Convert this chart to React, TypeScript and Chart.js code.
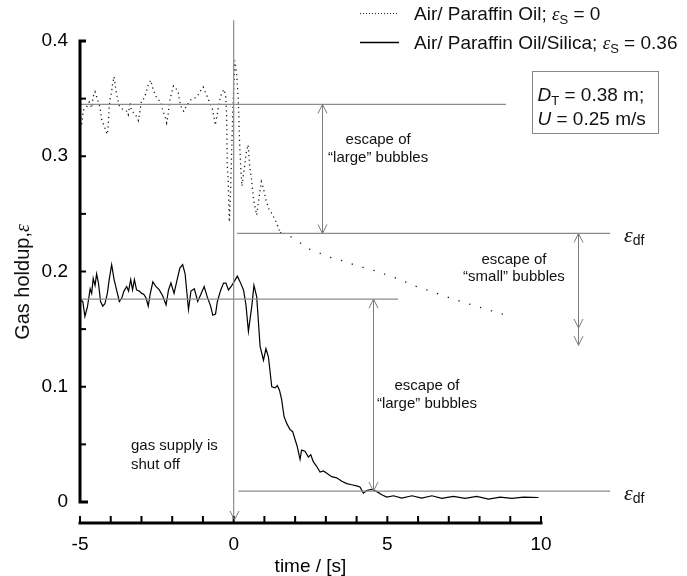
import React, { useEffect, useRef } from "react";
import { Chart, registerables } from "chart.js";

Chart.register(...registerables);

const SANS = '"Liberation Sans", Arial, Helvetica, sans-serif';
const SERIF = '"Liberation Serif", "Times New Roman", serif';

// ---- Data: Air / Paraffin oil (dotted) ----
const dottedTime = [
  -5.0, -4.95, -4.89, -4.8, -4.7, -4.62, -4.57, -4.51, -4.44, -4.37, -4.33, -4.29, -4.22, -4.15, -4.11,
  -4.08, -4.05, -4.02, -3.97, -3.94, -3.89, -3.83, -3.78, -3.72, -3.59, -3.48, -3.43, -3.37, -3.32, -3.21,
  -3.1, -2.99, -2.92, -2.85, -2.78, -2.7, -2.61, -2.53, -2.45, -2.37, -2.31, -2.23, -2.18, -2.13, -2.07,
  -2.02, -1.96, -1.88, -1.8, -1.75, -1.67, -1.62, -1.53, -1.4, -1.29, -1.18, -1.1, -0.99, -0.88, -0.77,
  -0.68, -0.64, -0.6, -0.53, -0.47, -0.39, -0.31, -0.26, -0.23, -0.22, -0.21, -0.18, -0.14, -0.1, -0.06,
  -0.02, 0.04, 0.1, 0.15, 0.19, 0.23, 0.27, 0.35, 0.42, 0.47, 0.52, 0.58, 0.65, 0.75, 0.83, 0.9, 0.97,
  1.05, 1.15, 1.25, 1.38, 1.51, 1.72, 1.94, 2.16, 2.38, 2.65, 3.03, 3.46, 3.9, 4.55, 4.98, 5.41, 5.83,
  6.4, 6.94, 7.5, 8.0, 8.5, 9.0,
];
const dottedHoldup = [
  0.33, 0.327, 0.34, 0.342, 0.347, 0.342, 0.352, 0.356, 0.35, 0.344, 0.339, 0.331, 0.327, 0.321, 0.319,
  0.327, 0.343, 0.35, 0.356, 0.363, 0.369, 0.357, 0.35, 0.344, 0.34, 0.339, 0.336, 0.347, 0.339, 0.337,
  0.331, 0.349, 0.35, 0.355, 0.362, 0.366, 0.357, 0.352, 0.349, 0.347, 0.34, 0.334, 0.329, 0.337, 0.349,
  0.355, 0.361, 0.359, 0.355, 0.347, 0.34, 0.339, 0.344, 0.349, 0.35, 0.352, 0.356, 0.36, 0.353, 0.346,
  0.34, 0.334, 0.327, 0.337, 0.347, 0.355, 0.358, 0.352, 0.337, 0.317, 0.294, 0.28, 0.243, 0.27, 0.31,
  0.345, 0.383, 0.37, 0.35, 0.314, 0.29, 0.274, 0.29, 0.305, 0.31, 0.292, 0.28, 0.262, 0.249, 0.265, 0.278, 0.272,
  0.262, 0.254, 0.25, 0.243, 0.234, 0.232, 0.229, 0.225, 0.22, 0.218, 0.213, 0.21, 0.206, 0.201, 0.197, 0.193, 0.188,
  0.183, 0.178, 0.173, 0.169, 0.165, 0.161,
];

// ---- Data: Air / Paraffin oil / Silica (solid) ----
const solidTime = [
  -5.0, -4.98, -4.91, -4.84, -4.76, -4.67, -4.62, -4.57, -4.51, -4.46, -4.4, -4.33, -4.26, -4.19, -4.11,
  -4.05, -3.97, -3.89, -3.81, -3.72, -3.64, -3.57, -3.48, -3.42, -3.35, -3.29, -3.23, -3.16, -3.07, -2.99,
  -2.92, -2.85, -2.78, -2.72, -2.63, -2.53, -2.42, -2.31, -2.2, -2.12, -2.04, -1.94, -1.83, -1.75, -1.66,
  -1.58, -1.47, -1.39, -1.28, -1.17, -1.07, -0.96, -0.86, -0.75, -0.68, -0.59, -0.53, -0.42, -0.33, -0.25,
  -0.17, -0.08, 0.01, 0.12, 0.21, 0.32, 0.4, 0.48, 0.59, 0.66, 0.75, 0.86, 0.97, 1.05, 1.13, 1.24, 1.35,
  1.42, 1.49, 1.56, 1.64, 1.73, 1.83, 1.92, 2.0, 2.07, 2.16, 2.21, 2.32, 2.43, 2.51, 2.59, 2.7, 2.81, 2.92,
  3.03, 3.19, 3.35, 3.52, 3.68, 3.84, 4.0, 4.11, 4.22, 4.33, 4.49, 4.66, 4.82, 4.98, 5.2, 5.47, 5.8, 6.12,
  6.45, 6.77, 7.15, 7.53, 7.91, 8.29, 8.67, 9.05, 9.43, 9.92,
];
const solidHoldup = [
  0.176, 0.175, 0.174, 0.161, 0.169, 0.185, 0.181, 0.194, 0.188, 0.198, 0.19, 0.174, 0.17, 0.172, 0.181,
  0.193, 0.206, 0.193, 0.184, 0.174, 0.177, 0.183, 0.187, 0.183, 0.193, 0.184, 0.193, 0.184, 0.183, 0.181,
  0.18, 0.177, 0.17, 0.18, 0.191, 0.187, 0.184, 0.179, 0.171, 0.184, 0.19, 0.181, 0.194, 0.203, 0.206,
  0.198, 0.167, 0.183, 0.185, 0.174, 0.18, 0.187, 0.178, 0.17, 0.162, 0.163, 0.174, 0.184, 0.19, 0.19,
  0.184, 0.187, 0.191, 0.196, 0.191, 0.184, 0.171, 0.148, 0.17, 0.188, 0.178, 0.135, 0.123, 0.133, 0.126, 0.1, 0.099,
  0.101, 0.097, 0.089, 0.074, 0.068, 0.063, 0.061, 0.054, 0.048, 0.037, 0.045, 0.044, 0.039, 0.041, 0.035, 0.031, 0.026, 0.027,
  0.025, 0.022, 0.021, 0.018, 0.016, 0.015, 0.014, 0.013, 0.0077, 0.01, 0.011, 0.009, 0.0063, 0.0042, 0.0054, 0.0034, 0.0054, 0.0034,
  0.0054, 0.0031, 0.0048, 0.0031, 0.0048, 0.0025, 0.0042, 0.0031, 0.0042, 0.0039,
];

// ---- Axes ----
const xTickValues = [-5, -4, -3, -2, -1, 0, 1, 2, 3, 4, 5, 6, 7, 8, 9, 10];
const xTickLabels = ["-5", "", "", "", "", "0", "", "", "", "", "5", "", "", "", "", "10"];
const yTickValues = [0, 0.05, 0.1, 0.15, 0.2, 0.25, 0.3, 0.35, 0.4];
const yTickLabels = ["0", "", "0.1", "", "0.2", "", "0.3", "", "0.4"];

const seriesNames = ["Air/ Paraffin Oil; ", "Air/ Paraffin Oil/Silica; "];
const solidsHoldups = ["0", "0.36"];

// ---- Reference levels ----
const dottedMeanLevel = 0.345;
const dottedDfLevel = 0.233;
const solidMeanLevel = 0.176;
const solidDfLevel = 0.0095;
const dottedMeanSpan = [-5, 8.86];
const dottedDfSpan = [0.11, 12.25];
const solidMeanSpan = [-5, 5.35];
const solidDfSpan = [0.15, 12.25];
const shutOffTime = 0;
const shutOffSpan = [0.418, -0.0156];

const GRAY = "#8c8c8c";

function rich(ctx: CanvasRenderingContext2D, x: number, y: number, parts: [string, string, number][], align = "left") {
  let w = 0;
  for (const [t, f] of parts) {
    ctx.font = f;
    w += ctx.measureText(t).width;
  }
  let cx = align === "center" ? x - w / 2 : x;
  ctx.textAlign = "left";
  for (const [t, f, dy] of parts) {
    ctx.font = f;
    ctx.fillText(t, cx, y + dy);
    cx += ctx.measureText(t).width;
  }
}

function chevron(ctx: CanvasRenderingContext2D, x: number, y: number, dir: number) {
  ctx.beginPath();
  ctx.moveTo(x - 4.5, y - dir * 9);
  ctx.lineTo(x, y);
  ctx.lineTo(x + 4.5, y - dir * 9);
  ctx.stroke();
}

const overlay = {
  id: "overlay",
  afterDraw(chart: any) {
    const ctx: CanvasRenderingContext2D = chart.ctx;
    const xs = chart.scales.x;
    const ys = chart.scales.y;
    const px = (v: number) => xs.getPixelForValue(v);
    const py = (v: number) => ys.getPixelForValue(v);
    ctx.save();

    // axes
    ctx.strokeStyle = "#000";
    ctx.lineWidth = 3;
    const ax = px(-5);
    ctx.beginPath();
    ctx.moveTo(ax + 6, py(0.4));
    ctx.lineTo(ax, py(0.4));
    ctx.lineTo(ax, py(0));
    ctx.lineTo(ax + 8, py(0));
    ctx.stroke();
    ctx.lineWidth = 2;
    yTickValues.forEach((v) => {
      if (v === 0 || v === 0.4) return;
      ctx.beginPath();
      ctx.moveTo(ax, py(v));
      ctx.lineTo(ax + 6, py(v));
      ctx.stroke();
    });
    const by = ys.bottom;
    ctx.lineWidth = 3;
    ctx.beginPath();
    ctx.moveTo(px(-5) - 1.5, by);
    ctx.lineTo(px(10) + 1.5, by);
    ctx.stroke();
    ctx.lineWidth = 2;
    xTickValues.forEach((v) => {
      ctx.beginPath();
      ctx.moveTo(px(v), by);
      ctx.lineTo(px(v), by - 7);
      ctx.stroke();
    });

    // arrows
    ctx.strokeStyle = "#7a7a7a";
    ctx.lineWidth = 1;
    const arrows = [
      { t: 2.875, a: dottedMeanLevel, b: dottedDfLevel, extra: null as number | null },
      { t: 11.2, a: dottedDfLevel, b: 0.136, extra: 0.151 },
      { t: 4.53, a: solidMeanLevel, b: solidDfLevel, extra: null },
    ];
    arrows.forEach((ar) => {
      const x = Math.round(px(ar.t)) + 0.5;
      ctx.beginPath();
      ctx.moveTo(x, py(ar.a));
      ctx.lineTo(x, py(ar.b));
      ctx.stroke();
      chevron(ctx, x, py(ar.a), -1);
      chevron(ctx, x, py(ar.b), 1);
      if (ar.extra !== null) chevron(ctx, x, py(ar.extra), 1);
    });
    chevron(ctx, Math.round(px(shutOffTime)) + 0.5, py(shutOffSpan[1]), 1);

    // annotation texts
    ctx.fillStyle = "#111";
    ctx.textBaseline = "middle";
    ctx.textAlign = "center";
    ctx.font = `15px ${SANS}`;
    ctx.fillText("escape of", px(4.7), py(0.314));
    ctx.fillText("\u201clarge\u201d bubbles", px(4.7), py(0.2985));
    ctx.fillText("escape of", px(9.12), py(0.21));
    ctx.fillText("\u201csmall\u201d bubbles", px(9.12), py(0.195));
    ctx.fillText("escape of", px(6.29), py(0.1007));
    ctx.fillText("\u201clarge\u201d bubbles", px(6.29), py(0.085));
    ctx.textAlign = "left";
    ctx.fillText("gas supply is", px(-3.34), py(0.0486));
    ctx.fillText("shut off", px(-3.34), py(0.032));

    ctx.textBaseline = "alphabetic";
    // epsilon_df labels
    [dottedDfLevel, solidDfLevel].forEach((lv) => {
      rich(ctx, px(12.7), py(lv) + 9, [
        ["\u03b5", `italic 22px ${SERIF}`, 0],
        ["df", `14px ${SANS}`, 3],
      ]);
    });

    // legend
    ctx.strokeStyle = "#222";
    ctx.lineWidth = 1;
    ctx.setLineDash([1, 2]);
    ctx.beginPath();
    ctx.moveTo(360, 13.5);
    ctx.lineTo(399, 13.5);
    ctx.stroke();
    ctx.setLineDash([]);
    ctx.strokeStyle = "#000";
    ctx.lineWidth = 1.5;
    ctx.beginPath();
    ctx.moveTo(360, 42.5);
    ctx.lineTo(399, 42.5);
    ctx.stroke();
    const legendBase = [20, 49];
    seriesNames.forEach((name, i) => {
      rich(ctx, 414, legendBase[i], [
        [name, `19px ${SANS}`, 0],
        ["\u03b5", `italic 19px ${SERIF}`, 0],
        ["S", `13px ${SANS}`, 4],
        [" = " + solidsHoldups[i], `19px ${SANS}`, 0],
      ]);
    });

    // parameter box
    const bl = Math.round(px(9.71)) + 0.5;
    const br = Math.round(px(13.81)) + 0.5;
    const bt = Math.round(py(0.374)) + 0.5;
    const bb = Math.round(py(0.32)) + 0.5;
    ctx.strokeStyle = "#888";
    ctx.lineWidth = 1;
    ctx.strokeRect(bl, bt, br - bl, bb - bt);
    rich(ctx, bl + 5, bt + 29, [
      ["D", `italic 19px ${SANS}`, 0],
      ["T", `13px ${SANS}`, 4],
      [" = 0.38 m;", `19px ${SANS}`, 0],
    ]);
    rich(ctx, bl + 5, bt + 53, [
      ["U", `italic 19px ${SANS}`, 0],
      [" = 0.25 m/s", `19px ${SANS}`, 0],
    ]);

    // y title
    ctx.save();
    ctx.translate(22, (ys.top + ys.bottom) / 2);
    ctx.rotate(-Math.PI / 2);
    rich(ctx, 0, 7, [
      ["Gas holdup,", `20px ${SANS}`, 0],
      ["\u03b5", `italic 20px ${SERIF}`, 0],
    ], "center");
    ctx.restore();

    ctx.restore();
  },
};

function refLine(pts: { x: number; y: number }[]) {
  return {
    data: pts,
    borderColor: GRAY,
    borderWidth: 1.2,
    pointRadius: 0,
    tension: 0,
    clip: false as any,
    fill: false,
  };
}

export default function App() {
  const ref = useRef<HTMLCanvasElement>(null);
  useEffect(() => {
    const canvas = ref.current!;
    const chart = new Chart(canvas, {
      type: "line",
      data: {
        datasets: [
          refLine([{ x: dottedMeanSpan[0], y: dottedMeanLevel }, { x: dottedMeanSpan[1], y: dottedMeanLevel }]),
          refLine([{ x: dottedDfSpan[0], y: dottedDfLevel }, { x: dottedDfSpan[1], y: dottedDfLevel }]),
          refLine([{ x: solidMeanSpan[0], y: solidMeanLevel }, { x: solidMeanSpan[1], y: solidMeanLevel }]),
          refLine([{ x: solidDfSpan[0], y: solidDfLevel }, { x: solidDfSpan[1], y: solidDfLevel }]),
          refLine([{ x: shutOffTime, y: shutOffSpan[0] }, { x: shutOffTime, y: shutOffSpan[1] }]),
          {
            label: seriesNames[0],
            data: dottedTime.map((t, i) => ({ x: t, y: dottedHoldup[i] })),
            borderColor: "#1a1a1a",
            borderWidth: 1.3,
            borderDash: [1.2, 3.5],
            pointRadius: 0,
            tension: 0,
            segment: {
              borderDash: (c: any) => (c.p0.parsed.x >= 1.5 ? [1.3, 10] : undefined),
            },
          } as any,
          {
            label: seriesNames[1],
            data: solidTime.map((t, i) => ({ x: t, y: solidHoldup[i] })),
            borderColor: "#000",
            borderWidth: 1.2,
            pointRadius: 0,
            tension: 0,
          },
        ],
      },
      options: {
        animation: false,
        responsive: false,
        devicePixelRatio: 1,
        layout: { padding: { left: 0, right: 146, top: 41, bottom: 0 } },
        plugins: { legend: { display: false }, tooltip: { enabled: false } },
        scales: {
          x: {
            type: "linear",
            min: -5,
            max: 10,
            grid: { display: false, drawTicks: false },
            border: { display: false },
            afterBuildTicks: (s: any) => {
              s.ticks = xTickValues.map((v) => ({ value: v }));
            },
            afterFit: (s: any) => {
              s.height = 53;
            },
            ticks: {
              autoSkip: false,
              maxRotation: 0,
              padding: 10,
              color: "#000",
              font: { family: SANS, size: 19 },
              callback: (_v: any, i: number) => xTickLabels[i],
            },
            title: {
              display: true,
              text: "time / [s]",
              color: "#000",
              font: { family: SANS, size: 19 },
              padding: { top: 0, bottom: -2 },
            },
          },
          y: {
            type: "linear",
            min: -0.01822,
            max: 0.4,
            grid: { display: false, drawTicks: false },
            border: { display: false },
            afterBuildTicks: (s: any) => {
              s.ticks = yTickValues.map((v) => ({ value: v }));
            },
            afterFit: (s: any) => {
              s.width = 80;
            },
            ticks: {
              autoSkip: false,
              padding: 12,
              color: "#000",
              font: { family: SANS, size: 19 },
              callback: (_v: any, i: number) => yTickLabels[i],
            },
          },
        },
      },
      plugins: [overlay],
    } as any);
    return () => chart.destroy();
  }, []);
  return (
    <div style={{ position: "fixed", left: 0, top: 0, width: 687, height: 576, background: "#fff" }}>
      <canvas ref={ref} width={687} height={576} style={{ display: "block", width: 687, height: 576 }} />
    </div>
  );
}
